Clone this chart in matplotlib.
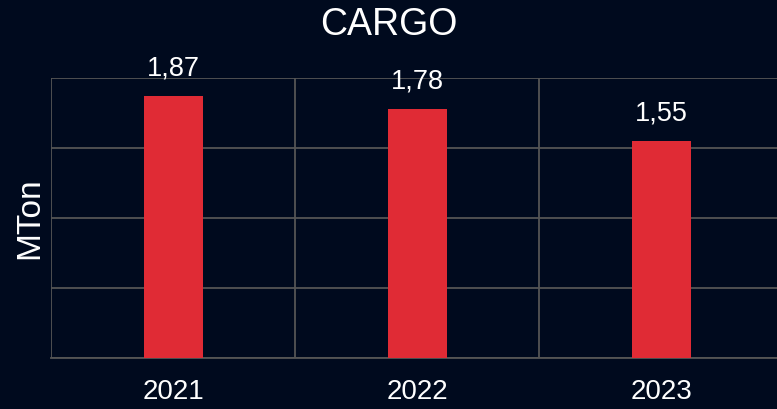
import matplotlib
matplotlib.use("Agg")
import matplotlib.pyplot as plt
import numpy as np

plt.rcParams["font.family"] = ["Liberation Sans", "DejaVu Sans"]

years = ["2021", "2022", "2023"]
cargo = [1.87, 1.78, 1.55]
labels = ["1,87", "1,78", "1,55"]

bg = "#000a1e"
fig = plt.figure(figsize=(7.77, 4.10), dpi=100, facecolor=bg)
ax = fig.add_axes([51 / 777, 51.5 / 410, 732.5 / 777, 279.5 / 410], facecolor=bg)

x = np.arange(len(years))
bars = ax.bar(x, cargo, width=0.242, color="#e02b35", zorder=3)
for b, lab in zip(bars, labels):
    ax.annotate(lab, (b.get_x() + b.get_width() / 2, b.get_height()),
                xytext=(0, 11), textcoords="offset points", ha="center", va="bottom",
                color="white", fontsize=19.5)

ax.set_xlim(-0.5, 2.5)
ax.set_ylim(0, 2)
ax.set_xticks(x)
ax.set_xticklabels(years, fontsize=20, color="white")
ax.set_xticks([-0.5, 0.5, 1.5, 2.5], minor=True)
ax.set_yticks(np.arange(0, 2.01, 0.5))
ax.set_yticklabels([])
ax.tick_params(axis="both", which="both", length=0, pad=15)
ax.grid(True, which="minor", axis="x", color="#555555", linewidth=1.3, zorder=0)
ax.grid(True, which="major", axis="y", color="#555555", linewidth=1.3, zorder=0)
for s in ax.spines.values():
    s.set_visible(False)
ax.spines["bottom"].set_visible(True)
ax.spines["bottom"].set_color("#555555")
ax.spines["bottom"].set_linewidth(1.3)
fig.text(30 / 777, 1 - 218 / 410, "MTon", rotation=90, ha="center", va="center",
         fontsize=24, color="white")
fig.text(0.5, 1 - 25 / 410, "CARGO", ha="center", va="center", fontsize=27, color="white")

fig.savefig("out.png", dpi=100, facecolor=bg)
